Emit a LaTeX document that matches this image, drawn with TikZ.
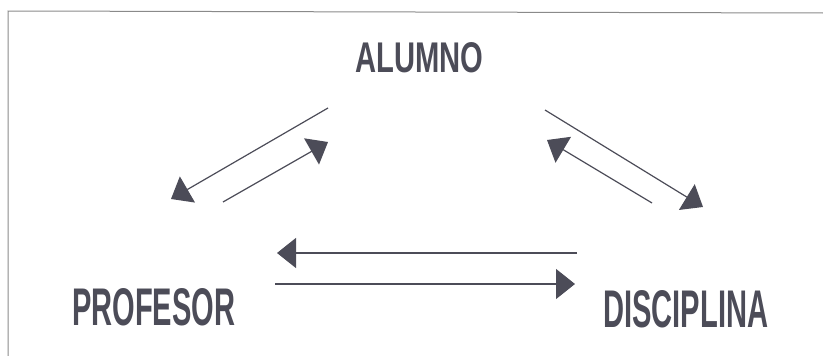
\documentclass[tikz,border=0pt]{standalone}
\usepackage{fontspec}
\setmainfont{Liberation Sans}
\usetikzlibrary{arrows.meta}
\definecolor{ink}{HTML}{4C4C58}
\definecolor{frame}{HTML}{8A8A8A}
\tikzset{
  label/.style={inner sep=0pt, anchor=base west, text=ink, font=\bfseries},
  rel/.style={draw=ink, line width=1.2pt, -{Triangle[length=19pt, width=30pt]}},
}
\begin{document}
\begin{tikzpicture}[x=1pt, y=-1pt]
\useasboundingbox (0,0) rectangle (823,356);
\draw[frame, line width=1pt] (8,356) -- (8,11) -- (823,13);
\node[label] (alumno) at (355,72) {\resizebox{128pt}{30pt}{ALUMNO}};
\node[label] (profesor) at (72,325) {\resizebox{163pt}{37pt}{PROFESOR}};
\node[label] (disciplina) at (603,327) {\resizebox{165pt}{37pt}{DISCIPLINA}};
\coordinate (a1s) at (328,108); \coordinate (a1e) at (171,199);
\coordinate (a2s) at (223,202); \coordinate (a2e) at (328,142);
\coordinate (a3s) at (545,110); \coordinate (a3e) at (703,207);
\coordinate (a4s) at (652,203); \coordinate (a4e) at (547,140);
\coordinate (a5s) at (577,253); \coordinate (a5e) at (277,253);
\coordinate (a6s) at (275,284); \coordinate (a6e) at (575,284);
\draw[rel] (a1s) -- (a1e);
\draw[rel] (a2s) -- (a2e);
\draw[rel] (a3s) -- (a3e);
\draw[rel] (a4s) -- (a4e);
\draw[rel] (a5s) -- (a5e);
\draw[rel] (a6s) -- (a6e);
\end{tikzpicture}
\end{document}
